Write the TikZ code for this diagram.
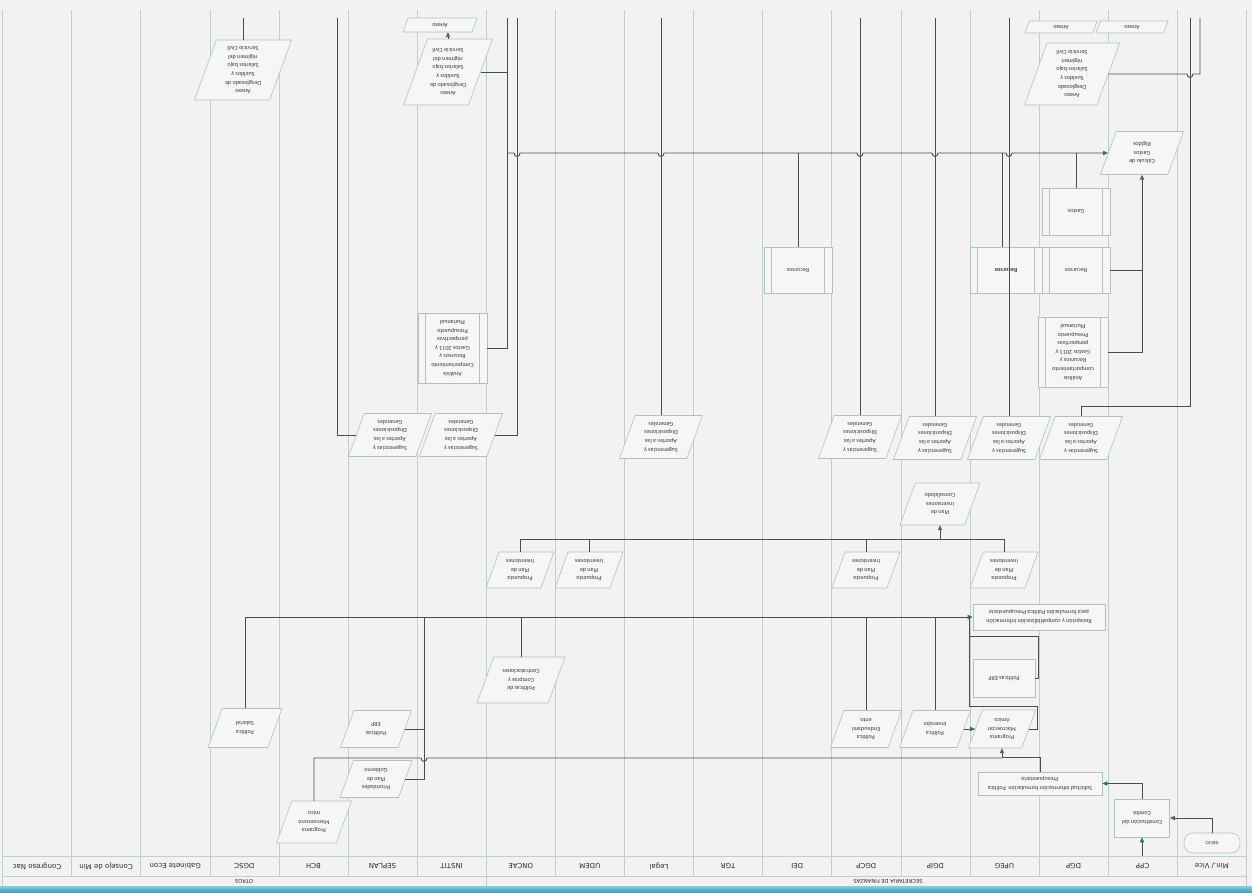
\documentclass[tikz,border=0pt]{standalone}
\usepackage{fontspec}
\setmainfont{Carlito}
\newfontfamily\hdrfont{DejaVu Sans}
\usetikzlibrary{arrows.meta,calc}
\definecolor{bg}{HTML}{F1F2F1}
\definecolor{shpfill}{HTML}{F5F6F5}
\definecolor{laneclr}{HTML}{BFD0CC}
\definecolor{shp}{HTML}{AFC3BE}
\definecolor{conn}{HTML}{474E4B}
\definecolor{arr}{HTML}{3E6E52}
\definecolor{txt}{HTML}{3C3C3C}
\definecolor{hdr}{HTML}{2A2A2A}
\definecolor{barA}{HTML}{86CFDC}
\definecolor{barB}{HTML}{3AA2B8}
\newcommand{\rt}[1]{\rotatebox[origin=c]{180}{\renewcommand{\arraystretch}{1}\begin{tabular}{@{}c@{}}#1\end{tabular}}}
\newcommand{\pg}[6]{%
 \pgfmathsetmacro\pgS{0.364*#5}%
 \pgfmathsetmacro\pgL{#2-#4/2}%
 \pgfmathsetmacro\pgR{#2+#4/2}%
 \pgfmathsetmacro\pgT{#3-#5/2}%
 \pgfmathsetmacro\pgB{#3+#5/2}%
 \pgfmathsetmacro\pgW{#4-\pgS}%
 \draw[shpline] (\pgL,\pgB) -- (\pgR-\pgS,\pgB) -- (\pgR,\pgT) -- (\pgL+\pgS,\pgT) -- cycle;
 \node[tnode, minimum width=\pgW pt, minimum height=#5 pt] (#1) at (#2,#3) {\rt{#6}};}
\begin{document}
\begin{tikzpicture}[x=1pt,y=-1pt,
  font=\fontsize{6.1}{8.6}\selectfont,
  laneline/.style={draw=laneclr, line width=0.6pt},
  shpline/.style={draw=shp, fill=shpfill, line width=0.6pt},
  tnode/.style={inner sep=0pt, text=txt},
  box/.style={draw=shp, fill=shpfill, line width=0.6pt, inner sep=0pt, text=txt},
  ppbox/.style={box, path picture={\draw[shp,line width=0.6pt]
     ([xshift=7.5pt]path picture bounding box.north west) -- ([xshift=7.5pt]path picture bounding box.south west)
     ([xshift=-7.5pt]path picture bounding box.north east) -- ([xshift=-7.5pt]path picture bounding box.south east);}},
  conn/.style={draw=conn, line width=0.95pt},
  arw/.style={-{Triangle[length=5pt,width=4.2pt,color=arr]}},
  hdrlbl/.style={inner sep=0pt, text=hdr, font=\hdrfont\fontsize{7}{8}\selectfont},
  grplbl/.style={inner sep=0pt, text=hdr, font=\hdrfont\fontsize{5.2}{6}\selectfont}]
\useasboundingbox (0,0) rectangle (1252,892);
\fill[bg] (0,0) rectangle (1252,892);
% lanes
\foreach \i in {0,...,18} {\draw[laneline] ({2.5+69.1*\i},10) -- ({2.5+69.1*\i},876);}
\draw[laneline] (2.5,856) -- (1246.3,856);
\draw[laneline] (2.5,876) -- (1246.3,876);
\draw[laneline] (2.5,876) -- (2.5,886) (486.2,876) -- (486.2,886) (1246.3,876) -- (1246.3,886);
\shade[top color=barA, bottom color=barB] (0,886) rectangle (1252,892);
\foreach \n [count=\i from 0] in {Congreso Nac,Consejo de Min,Gabinete Econ,DGSC,BCH,SEPLAN,INSTIT,ONCAE,UDEM,Legal,TGR,DEI,DGCP,DGIP,UPEG,DGP,CPP,Min./ Vice}
  {\node[hdrlbl] (lane\i) at ({37.05+69.1*\i},866) {\rotatebox{180}{\n}};}
\node[grplbl] (otros) at (244,881) {\rotatebox{180}{OTROS}};
\node[grplbl] (secfin) at (888,881) {\rotatebox{180}{SECRETARIA DE FINANZAS}};

% ---------- nodes ----------
\node[box, minimum width=56pt, minimum height=20pt, rounded corners=9pt, font=\fontsize{5}{6}\selectfont] (init) at (1212,843) {\rt{INICIO}};
\node[box, minimum width=55pt, minimum height=38pt] (comite) at (1142,818) {\rt{Constitución del\\Comité}};
\node[box, minimum width=124pt, minimum height=23pt] (solic) at (1040,783.5) {\rt{Solicitud información formulación\ \ Política\\Presupuestaria}};
\pg{progU}{1002}{729}{67}{38}{Programa\\Macroecon\\ómico}
\pg{progB}{314}{822}{75}{42}{Programa\\Macroeconó\\mico}
\pg{prio}{376}{779}{72}{37}{Prioridades\\Plan de\\Gobierno}
\pg{erpS}{376}{729}{71}{37}{Políticas\\ERP}
\pg{salar}{245}{728}{74}{39}{Política\\Salarial}
\pg{compr}{521}{680}{88}{46}{Políticas de\\Compras y\\Contrataciones}
\pg{endeu}{866}{729}{71}{37}{Política\\Endeudami\\ento}
\pg{inver}{935}{729}{71}{37}{Política\\Inversión}
\node[box, minimum width=62pt, minimum height=38pt] (erpU) at (1004,678) {\rt{Políticas ERP}};
\node[box, minimum width=132pt, minimum height=26pt] (recep) at (1039,617) {\rt{Recepción y compatibilización información\\para formulación Política Presupuestaria}};
\pg{propO}{520}{570}{68}{36}{Propuesta\\Plan de\\Inversiones}
\pg{propM}{589}{570}{68}{36}{Propuesta\\Plan de\\Inversiones}
\pg{propC}{866}{570}{68}{36}{Propuesta\\Plan de\\Inversiones}
\pg{propU}{1004}{570}{68}{36}{Propuesta\\Plan de\\Inversiones}
\pg{planC}{940}{504}{80}{42}{Plan de\\Inversiones\\Consolidado}
\pg{sugS}{390}{435}{83}{43}{Sugerencias y\\Aportes a las\\Disposiciones\\Generales}
\pg{sugT}{461}{435}{83}{43}{Sugerencias y\\Aportes a las\\Disposiciones\\Generales}
\pg{sugL}{661}{437}{83}{43}{Sugerencias y\\Aportes a las\\Disposiciones\\Generales}
\pg{sugC}{860}{437}{83}{43}{Sugerencias y\\Aportes a las\\Disposiciones\\Generales}
\pg{sugI}{935}{438}{83}{43}{Sugerencias y\\Aportes a las\\Disposiciones\\Generales}
\pg{sugU}{1009}{438}{83}{43}{Sugerencias y\\Aportes a las\\Disposiciones\\Generales}
\pg{sugP}{1081}{438}{83}{43}{Sugerencias y\\Aportes a las\\Disposiciones\\Generales}
\node[ppbox, minimum width=69pt, minimum height=70pt] (anaI) at (452.5,348) {\rt{Análisis\\Comportamiento\\Recursos y\\Gastos 2011 y\\perspectivas\\Presupuesto\\Plurianual}};
\node[ppbox, minimum width=70pt, minimum height=70pt] (anaP) at (1073,352) {\rt{Análisis\\comportamiento\\Recursos y\\Gastos 2011 y\\perspectivas\\Presupuesto\\Plurianual}};
\node[ppbox, minimum width=68pt, minimum height=46pt] (recD) at (798,270) {\rt{Recursos}};
\node[ppbox, minimum width=72pt, minimum height=46pt] (recU) at (1006,270) {\rt{\textbf{Recursos}}};
\node[ppbox, minimum width=68pt, minimum height=46pt] (recP) at (1076,270) {\rt{Recursos}};
\node[ppbox, minimum width=68pt, minimum height=47pt] (gastos) at (1076,211.5) {\rt{Gastos}};
\pg{calc}{1142}{153}{83}{43}{Cálculo de\\Gastos\\Rígidos}
\pg{anxS}{243}{70}{97}{60}{Anexo\\Desglosado de\\Sueldos y\\Salarios bajo\\régimen del\\Servicio Civil}
\pg{anxI}{448}{72}{89}{66}{Anexo\\Desglosado de\\Sueldos y\\Salarios bajo\\régimen del\\Servicio Civil}
\pg{anxP}{1072}{74}{95}{62}{Anexo\\Desglosado\\Sueldos y\\Salarios bajo\\régimen\\Servicio Civil}
\pg{anexI}{440}{25}{74}{14}{Anexo}
\pg{anexPa}{1061}{27}{72}{12}{Anexo}
\pg{anexPb}{1132}{27}{72}{12}{Anexo}

% ---------- coordinates ----------
\coordinate (inCPP) at (1142,856);
\coordinate (j424) at (424,617);
\coordinate (h539) at (0,539);
\coordinate (h153) at (0,153);
\coordinate (t1190) at (1190,18);
\coordinate (t1200) at (1200,18);
\coordinate (t517) at (517,18);
\coordinate (t507) at (507,18);
\coordinate (t337) at (337,18);
\coordinate (t243) at (243,18);
\coordinate (top) at (0,18);
\coordinate (x1002) at (1002,153);

% ---------- connectors ----------
\draw[conn,arw] (init.north) |- (comite.east);
\draw[conn,arw] (inCPP) -- (comite.south);
\draw[conn,arw] (comite.north) |- (solic.east);
\draw[conn,arw] (solic.north) -- ++(0,-14) -| (progU.south);
\draw[conn] (progB.north) -- (314,758) -- (421,758) .. controls (421,762.5) and (427,762.5) .. (427,758) -- (1002,758);
\draw[conn] (prio.east) -| (j424);
\draw[conn] (erpS.east) -- (erpS.east -| j424);
\draw[conn,arw] (salar.north) |- (recep.west);
\draw[conn] (compr.north) -- (compr.north |- recep.west);
\draw[conn] (endeu.north) -- (endeu.north |- recep.west);
\draw[conn] (inver.north) -- (inver.north |- recep.west);
\draw[conn,arw] (inver.east) -- (progU.west);
\draw[conn] (progU.east) -- ++(9,0) |- (969,706) -- (969,617);
\draw[conn] (erpU.east) -- ++(3,0) |- (969,636);
% propuestas
\draw[conn] (propO.north) -- (propO.north |- h539) -- (propU.north |- h539) -- (propU.north);
\draw[conn] (propM.north) -- (propM.north |- h539);
\draw[conn] (propC.north) -- (propC.north |- h539);
\draw[conn,arw] (planC.south |- h539) -- (planC.south);
% sugerencias
\draw[conn] (sugP.north) -- ++(0,-10) -| (t1190);
\draw[conn] (sugU.north) -- (sugU.north |- top);
\draw[conn] (sugI.north) -- (sugI.north |- top);
\draw[conn] (sugC.north) -- (sugC.north |- top);
\draw[conn] (sugL.north) -- (sugL.north |- top);
\draw[conn] (sugT.east) -| (t517);
\draw[conn] (sugS.west) -| (t337);
% analisis instit / anexo
\draw[conn] (anaI.east) -| (t507);
\draw[conn] (anxI.east) -- (anxI.east -| t507);
\draw[conn,arw] (anxI.north) -- (anxI.north |- anexI.south);
\draw[conn] (anxS.north) -- (t243);
% line to calculo
\draw[conn,arw] (507,153) -- (514,153) .. controls (514,157.5) and (520,157.5) .. (520,153)
  -- (658,153) .. controls (658,157.5) and (664,157.5) .. (664,153)
  -- (857,153) .. controls (857,157.5) and (863,157.5) .. (863,153)
  -- (932,153) .. controls (932,157.5) and (938,157.5) .. (938,153)
  -- (1006,153) .. controls (1006,157.5) and (1012,157.5) .. (1012,153)
  -- (calc.west);
\draw[conn] (recD.north) -- (recD.north |- h153);
\draw[conn] (recU.north -| x1002) -- (x1002);
\draw[conn] (gastos.north) -- (gastos.north |- h153);
\draw[conn,arw] (anaP.east) -| (calc.south);
\draw[conn] (recP.east) -- (recP.east -| calc.south);
\draw[conn] (anxP.east) -- (1187,74) .. controls (1187,78.5) and (1193,78.5) .. (1193,74) -| (t1200);
\end{tikzpicture}
\end{document}
